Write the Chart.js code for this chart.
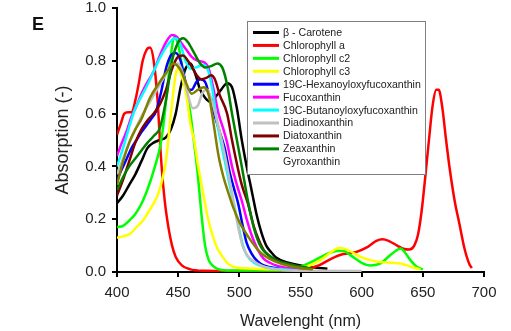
<!DOCTYPE html>
<html>
<head>
<meta charset="utf-8">
<script src="https://cdn.jsdelivr.net/npm/chart.js@4.4.1/dist/chart.umd.min.js"></script>
<style>
  html, body { margin: 0; padding: 0; background: #fff; }
  #wrap { width: 511px; height: 331px; }
</style>
</head>
<body>
<div id="wrap"><canvas id="pigmentChart" width="511" height="331"></canvas></div>
<script>
// absorption spectra, [wavelength nm, absorption]
const betaCarotene = [[400,.26],[405,.29],[410,.33],[415,.37],[420,.42],[425,.47],[430,.49],[435,.5],[440,.51],[444,.54],[448,.6],[452,.7],[456,.77],[460,.79],[464,.75],[468,.69],[472,.66],[476,.645],[480,.66],[485,.69],[490,.715],[494,.7],[498,.62],[502,.5],[506,.4],[510,.31],[514,.22],[518,.15],[522,.1],[526,.075],[530,.055],[540,.035],[550,.025],[560,.018],[572,.012]];
const chlA = [[400,.52],[403,.56],[406,.6],[409,.605],[412,.605],[415,.65],[418,.72],[421,.8],[424,.84],[427,.85],[430,.8],[433,.66],[436,.43],[439,.27],[442,.17],[445,.1],[448,.057],[453,.025],[460,.01],[470,.005],[500,.004],[540,.005],[555,.012],[565,.025],[575,.05],[585,.068],[595,.075],[605,.095],[612,.118],[617,.124],[622,.118],[629,.1],[634,.088],[639,.085],[643,.1],[646,.14],[649,.23],[652,.36],[655,.5],[658,.63],[661,.69],[663,.69],[666,.62],[669,.5],[672,.39],[676,.27],[680,.18],[684,.09],[688,.03],[690,.015]];
const chlC2 = [[400,.17],[405,.175],[410,.195],[415,.22],[419,.25],[423,.29],[427,.34],[431,.4],[435,.47],[438,.56],[441,.69],[444,.82],[447,.89],[450,.86],[454,.76],[457,.68],[460,.6],[463,.49],[466,.37],[469,.22],[472,.1],[475,.045],[478,.025],[482,.012],[490,.006],[540,.006],[550,.02],[560,.04],[570,.065],[580,.08],[585,.08],[591,.063],[600,.035],[607,.025],[615,.032],[625,.07],[632,.089],[636,.07],[640,.044],[645,.02],[650,.01]];
const chlC3 = [[400,.13],[405,.135],[411,.146],[416,.17],[422,.2],[426,.23],[430,.26],[434,.3],[437,.35],[440,.42],[443,.55],[446,.68],[448,.75],[450,.77],[453,.74],[457,.66],[460,.56],[463,.5],[466,.41],[470,.31],[474,.21],[478,.14],[482,.09],[486,.06],[490,.035],[495,.02],[500,.015],[540,.01],[555,.02],[566,.044],[575,.075],[582,.092],[590,.08],[599,.057],[607,.045],[615,.038],[625,.035],[632,.032],[640,.02],[648,.01]];
const hexFuco = [[400,.35],[404,.39],[408,.43],[412,.47],[416,.5],[420,.53],[424,.555],[428,.58],[432,.61],[436,.68],[440,.77],[444,.82],[448,.83],[452,.8],[455,.74],[458,.69],[461,.69],[465,.72],[468,.73],[472,.72],[476,.66],[480,.59],[484,.53],[488,.47],[492,.38],[496,.31],[499,.26],[503,.17],[506,.11],[510,.07],[515,.04],[520,.025],[530,.015],[540,.01],[550,.008]];
const fuco = [[400,.44],[404,.49],[408,.535],[412,.59],[416,.63],[420,.675],[425,.72],[430,.76],[435,.82],[440,.87],[445,.898],[449,.89],[453,.865],[457,.84],[461,.815],[466,.8],[471,.795],[475,.77],[479,.69],[483,.6],[487,.54],[490,.49],[494,.4],[498,.33],[502,.27],[506,.2],[510,.14],[515,.085],[520,.05],[525,.035],[530,.025],[540,.015],[550,.01]];
const butFuco = [[400,.4],[405,.47],[410,.55],[415,.62],[420,.665],[425,.71],[430,.76],[435,.81],[440,.85],[445,.88],[448,.885],[452,.86],[456,.8],[460,.77],[465,.775],[470,.785],[474,.77],[478,.69],[482,.56],[485,.49],[489,.4],[493,.31],[496,.25],[500,.16],[503,.1],[506,.065],[512,.035],[520,.02],[530,.012],[548,.006]];
const diadino = [[400,.37],[405,.43],[410,.49],[415,.54],[420,.59],[425,.63],[430,.67],[435,.71],[440,.75],[445,.78],[450,.79],[454,.75],[458,.67],[462,.62],[466,.63],[470,.68],[474,.69],[478,.64],[482,.57],[486,.49],[490,.4],[494,.3],[497,.22],[500,.15],[503,.095],[507,.06],[512,.04],[520,.02],[530,.01],[545,.005],[600,.004]];
const diato = [[400,.29],[405,.35],[410,.42],[415,.49],[420,.54],[425,.575],[430,.6],[435,.635],[440,.69],[445,.77],[450,.815],[454,.82],[458,.8],[462,.77],[466,.74],[469,.73],[473,.735],[477,.745],[480,.73],[484,.67],[490,.6],[494,.5],[498,.41],[502,.33],[507,.26],[512,.17],[516,.12],[520,.083],[525,.06],[530,.045],[540,.03],[550,.02],[560,.012]];
const zea = [[400,.31],[405,.36],[410,.4],[415,.43],[420,.46],[425,.49],[430,.515],[435,.545],[440,.65],[445,.8],[450,.87],[454,.885],[458,.87],[463,.83],[468,.79],[472,.775],[477,.78],[482,.79],[486,.775],[490,.71],[494,.6],[498,.5],[502,.4],[507,.27],[512,.165],[516,.11],[520,.08],[525,.06],[530,.045],[540,.03],[550,.02],[560,.012]];
const gyro = [[400,.33],[405,.42],[410,.49],[415,.54],[420,.58],[427,.66],[435,.72],[441,.76],[446,.79],[452,.765],[457,.71],[461,.675],[466,.69],[471,.7],[475,.67],[479,.56],[483,.44],[487,.36],[491,.3],[495,.245],[500,.19],[505,.15],[510,.115],[515,.085],[520,.063],[530,.038],[540,.024],[550,.015],[560,.01]];

const pigmentNames = ['\u03b2 - Carotene', 'Chlorophyll a', 'Chlorophyll c2', 'Chlorophyll c3',
  '19C-Hexanoyloxyfucoxanthin', 'Fucoxanthin', '19C-Butanoyloxyfucoxanthin',
  'Diadinoxanthin', 'Diatoxanthin', 'Zeaxanthin', 'Gyroxanthin'];
const spectra = [betaCarotene, chlA, chlC2, chlC3, hexFuco, fuco, butFuco, diadino, diato, zea, gyro];
const lineColors = ['#000000', '#ff0000', '#00ff00', '#ffff00', '#0000ff', '#ff00ff',
  '#00ffff', '#c0c0c0', '#800000', '#008000', '#808000'];
const xTicks = [400, 450, 500, 550, 600, 650, 700];
const yTicks = [0, 0.2, 0.4, 0.6, 0.8, 1.0];

const textColor = '#222';

// legend box drawn inside the plot, plus the panel letter
const boxLegend = {
    id: 'boxLegend',
    afterDraw(chart) {
        const ctx = chart.ctx;
        ctx.save();
        ctx.fillStyle = '#fff';
        ctx.fillRect(247, 21, 178, 153);
        ctx.strokeStyle = '#808080';
        ctx.lineWidth = 1;
        ctx.strokeRect(247.5, 21.5, 178, 153);
        ctx.font = '10.6px Arial, "Liberation Sans"';
        ctx.textBaseline = 'middle';
        chart.data.datasets.forEach((ds, i) => {
            const y = 32.5 + i * 12.93;
            if (!ds.hideSwatch) {
                ctx.strokeStyle = ds.borderColor;
                ctx.lineWidth = 3;
                ctx.beginPath();
                ctx.moveTo(253, y);
                ctx.lineTo(279, y);
                ctx.stroke();
            }
            ctx.fillStyle = textColor;
            ctx.fillText(ds.label, 283, y + 0.5);
        });
        ctx.font = 'bold 18px Arial, "Liberation Sans"';
        ctx.textBaseline = 'alphabetic';
        ctx.fillStyle = '#111';
        ctx.fillText('E', 32, 30);
        ctx.restore();
    }
};

const datasets = spectra.map((pts, i) => ({
    label: pigmentNames[i],
    data: pts,
    borderColor: lineColors[i],
    backgroundColor: lineColors[i],
    borderWidth: 2.5,
    pointRadius: 0,
    cubicInterpolationMode: 'monotone',
    fill: false,
    order: spectra.length - i,
    hideSwatch: i === spectra.length - 1
}));

new Chart(document.getElementById('pigmentChart'), {
    type: 'line',
    data: { datasets: datasets },
    options: {
        responsive: false,
        animation: false,
        devicePixelRatio: 1,
        layout: { padding: { left: 0, right: 27, top: 8, bottom: 0 } },
        plugins: { legend: { display: false }, tooltip: { enabled: false } },
        scales: {
            x: {
                type: 'linear',
                min: 400,
                max: 700,
                afterBuildTicks: (scale) => { scale.ticks = xTicks.map(v => ({ value: v })); },
                afterFit: (scale) => { scale.height = 59; },
                ticks: { font: { size: 15, family: 'Arial, "Liberation Sans"' }, color: textColor, padding: 7, maxRotation: 0 },
                grid: { drawOnChartArea: false, drawTicks: true, tickLength: 5, color: '#000', lineWidth: 2 },
                border: { display: true, color: '#000', width: 2 },
                title: {
                    display: true,
                    text: 'Wavelenght (nm)',
                    color: textColor,
                    font: { size: 16, family: 'Arial, "Liberation Sans"' },
                    padding: { top: 2, bottom: 0 }
                }
            },
            y: {
                type: 'linear',
                min: 0,
                max: 1,
                afterBuildTicks: (scale) => { scale.ticks = yTicks.map(v => ({ value: v })); },
                afterFit: (scale) => {
                    scale.width = 117;
                    scale.paddingTop = 0;
                    scale.paddingBottom = 0;
                },
                ticks: {
                    font: { size: 15, family: 'Arial, "Liberation Sans"' },
                    color: textColor,
                    padding: 6,
                    callback: (v) => v.toFixed(1)
                },
                grid: { drawOnChartArea: false, drawTicks: true, tickLength: 5, color: '#000', lineWidth: 2 },
                border: { display: true, color: '#000', width: 2 },
                title: {
                    display: true,
                    text: 'Absorption (-)',
                    color: textColor,
                    font: { size: 18, family: 'Arial, "Liberation Sans"' },
                    padding: { top: 52, bottom: 0 }
                }
            }
        }
    },
    plugins: [boxLegend]
});
</script>
</body>
</html>
